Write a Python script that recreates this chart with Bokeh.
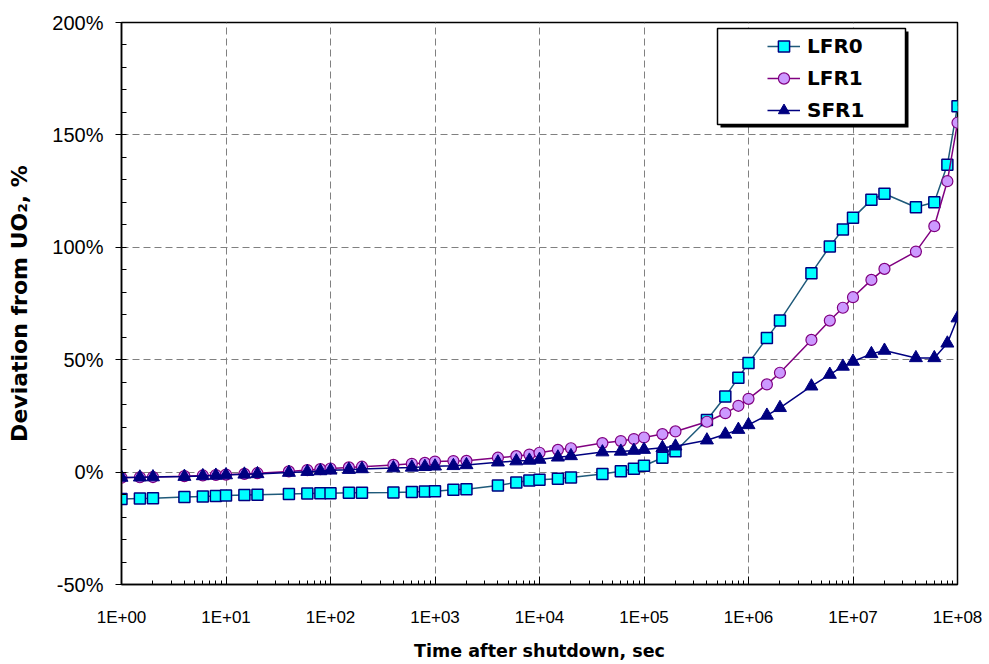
from bokeh.plotting import figure
from bokeh.models import (FixedTicker, Legend, LegendItem, BoxAnnotation, Range1d)
from bokeh.embed import file_html
from bokeh.resources import INLINE

# ---- data ----
time_s = [1, 1.5, 2, 4, 6, 8, 10, 15, 20, 40, 60, 80, 100, 150, 200, 400, 600, 800,
          1e3, 1.5e3, 2e3, 4e3, 6e3, 8e3, 1e4, 1.5e4, 2e4, 4e4, 6e4, 8e4,
          1e5, 1.5e5, 2e5, 4e5, 6e5, 8e5, 1e6, 1.5e6, 2e6, 4e6, 6e6, 8e6,
          1e7, 1.5e7, 2e7, 4e7, 6e7, 8e7, 1e8]

lfr0 = [-12.0, -11.7, -11.6, -11.1, -10.8, -10.6, -10.4, -10.2, -10.1, -9.7, -9.5, -9.4,
        -9.4, -9.2, -9.2, -9.1, -8.9, -8.6, -8.5, -7.9, -7.6, -6.0, -4.6, -3.7, -3.4,
        -3.0, -2.4, -0.8, 0.4, 1.5, 2.8, 6.4, 9.3, 23.2, 33.6, 42.0, 48.5, 59.6, 67.4,
        88.5, 100.4, 107.9, 113.1, 121.1, 123.8, 117.8, 120.0, 136.7, 162.8]

lfr1 = [-2.5, -2.3, -2.2, -1.8, -1.5, -1.3, -1.1, -0.8, -0.5, 0.3, 0.9, 1.3, 1.6, 2.1,
        2.4, 3.2, 3.7, 4.1, 4.7, 4.9, 5.0, 6.4, 7.1, 7.8, 8.6, 9.9, 10.6, 12.9, 13.8,
        14.7, 15.4, 16.9, 18.1, 22.4, 26.2, 29.5, 32.6, 39.0, 44.2, 58.8, 67.4, 73.1,
        77.8, 85.5, 90.4, 98.1, 109.4, 129.4, 155.4]

sfr1 = [-2.4, -2.3, -2.2, -2.0, -1.7, -1.5, -1.3, -1.0, -0.8, -0.2, 0.2, 0.5, 0.8, 1.1,
        1.4, 1.8, 2.1, 2.4, 2.6, 2.8, 3.2, 4.4, 4.9, 5.2, 5.6, 6.6, 7.2, 8.9, 9.2, 9.6,
        10.0, 10.8, 11.5, 14.2, 16.8, 18.9, 21.0, 25.2, 28.6, 38.2, 43.4, 47.0, 49.2,
        52.6, 54.1, 50.8, 50.8, 57.3, 68.5]

series_names = ["LFR0", "LFR1", "SFR1"]

x_ticks = [1, 10, 100, 1e3, 1e4, 1e5, 1e6, 1e7, 1e8]
x_tick_labels = ["1E+00", "1E+01", "1E+02", "1E+03", "1E+04", "1E+05", "1E+06", "1E+07", "1E+08"]
x_minor_ticks = [m * 10 ** d for d in range(8) for m in range(2, 10)]

y_ticks = [-50, 0, 50, 100, 150, 200]
y_tick_labels = ["-50%", "0%", "50%", "100%", "150%", "200%"]
y_minor_ticks = list(range(-50, 201, 10))

x_title = "Time after shutdown, sec"
y_title = "Deviation from UO\u2082, %"

# ---- figure ----
p = figure(width=989, height=664, x_axis_type="log",
           x_range=Range1d(1, 1e8), y_range=Range1d(-50, 200),
           output_backend="svg", toolbar_location=None,
           min_border_left=121, min_border_right=32,
           min_border_top=22, min_border_bottom=80)

p.background_fill_color = "white"
p.border_fill_color = "white"
p.outline_line_color = "black"
p.outline_line_width = 1.5

# axes
xa = p.xaxis[0]
xa.ticker = FixedTicker(ticks=x_ticks, minor_ticks=x_minor_ticks)
xa.major_label_overrides = {float(t): lab for t, lab in zip(x_ticks, x_tick_labels)}
xa.major_tick_in = 8
xa.major_tick_out = 0
xa.minor_tick_in = 4
xa.minor_tick_out = 0
xa.major_label_standoff = 23
xa.major_label_text_font = "Liberation Sans"
xa.major_label_text_font_size = "17px"
xa.major_label_text_color = "black"
xa.axis_label = x_title
xa.axis_label_text_font = "DejaVu Sans"
xa.axis_label_text_font_style = "bold"
xa.axis_label_text_font_size = "17.5px"
xa.axis_label_text_color = "black"
xa.axis_label_standoff = 11

ya = p.yaxis[0]
ya.ticker = FixedTicker(ticks=y_ticks, minor_ticks=y_minor_ticks)
ya.major_label_overrides = {float(t): lab for t, lab in zip(y_ticks, y_tick_labels)}
ya.major_tick_in = 0
ya.major_tick_out = 6
ya.minor_tick_in = 5
ya.minor_tick_out = 0
ya.major_label_standoff = 12
ya.major_label_text_font = "Liberation Sans"
ya.major_label_text_font_size = "20px"
ya.major_label_text_color = "black"
ya.axis_label = y_title
ya.axis_label_text_font = "DejaVu Sans"
ya.axis_label_text_font_style = "bold"
ya.axis_label_text_font_size = "22px"
ya.axis_label_text_color = "black"
ya.axis_label_standoff = 17

for ax in (xa, ya):
    ax.axis_line_color = "black"
    ax.axis_line_width = 1.5
    ax.major_tick_line_color = "black"
    ax.minor_tick_line_color = "black"

for g in (p.xgrid[0], p.ygrid[0]):
    g.grid_line_color = "#808080"
    g.grid_line_dash = "7 4"
    g.grid_line_width = 1

# ---- series ----
r0l = p.line(time_s, lfr0, line_color="#1F5A7A", line_width=1.5)
r0m = p.scatter(time_s, lfr0, marker="square", size=11, fill_color="#00FFFF",
                line_color="#000080", line_width=1.5)
r1l = p.line(time_s, lfr1, line_color="#800080", line_width=1.5)
r1m = p.scatter(time_s, lfr1, marker="circle", size=11, fill_color="#CC99FF",
                line_color="#800080", line_width=1.2)
r2l = p.line(time_s, sfr1, line_color="#000080", line_width=1.5)
r2m = p.scatter(time_s, sfr1, marker="triangle", size=13, fill_color="#000080",
                line_color="#000080", line_width=1)

# ---- legend with box and shadow ----
shadow = BoxAnnotation(left=599, right=787, top=553, bottom=457,
                       left_units="screen", right_units="screen",
                       top_units="screen", bottom_units="screen",
                       fill_color="black", fill_alpha=1, line_alpha=0)
box = BoxAnnotation(left=596, right=784, top=556, bottom=460,
                    left_units="screen", right_units="screen",
                    top_units="screen", bottom_units="screen",
                    fill_color="white", fill_alpha=1, line_color="black",
                    line_width=1.5, line_alpha=1)
p.add_layout(shadow)
p.add_layout(box)

legend = Legend(items=[LegendItem(label=series_names[0], renderers=[r0l, r0m]),
                       LegendItem(label=series_names[1], renderers=[r1l, r1m]),
                       LegendItem(label=series_names[2], renderers=[r2l, r2m])],
                location=(646, 460), padding=0, spacing=4, margin=0,
                glyph_width=33, glyph_height=28, label_height=20, label_standoff=7,
                label_text_font="DejaVu Sans", label_text_font_style="bold",
                label_text_font_size="20px", label_text_color="black",
                border_line_alpha=0, background_fill_alpha=0)
p.add_layout(legend)

open("out.html", "w").write(file_html(p, INLINE))
